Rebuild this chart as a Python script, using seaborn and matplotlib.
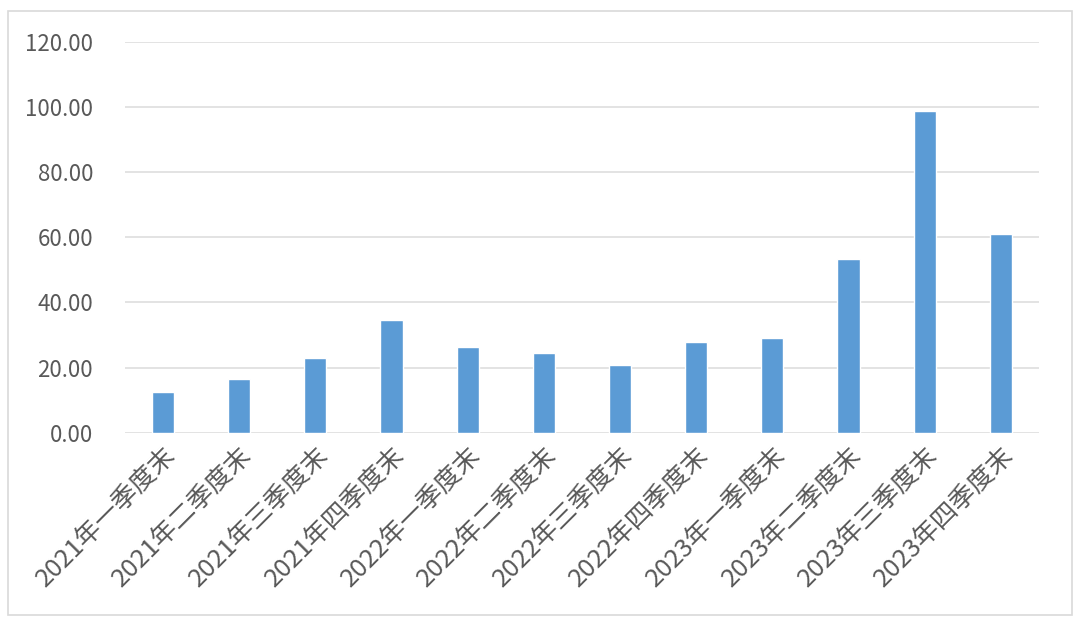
import matplotlib
matplotlib.use("Agg")
import matplotlib.pyplot as plt
import seaborn as sns
import pandas as pd
from matplotlib.patches import Rectangle

categories = ["2021年一季度末", "2021年二季度末", "2021年三季度末", "2021年四季度末",
              "2022年一季度末", "2022年二季度末", "2022年三季度末", "2022年四季度末",
              "2023年一季度末", "2023年二季度末", "2023年三季度末", "2023年四季度末"]
values = [12.4, 16.4, 23.0, 34.6, 26.3, 24.6, 20.7, 27.9, 29.0, 53.4, 98.7, 60.9]
yticks = [0, 20, 40, 60, 80, 100, 120]
ytick_labels = ["0.00", "20.00", "40.00", "60.00", "80.00", "100.00", "120.00"]

sns.set_theme(style="white")
plt.rcParams['font.family'] = ['Noto Sans CJK SC', 'DejaVu Sans']

df = pd.DataFrame({"cat": categories, "val": values})

fig = plt.figure(figsize=(10.8, 6.25), dpi=100)
ax = fig.add_axes([0.1157, 0.3077, 0.8463, 0.6251])

sns.barplot(data=df, x="cat", y="val", color="#5B9BD5", saturation=1,
            width=0.29, ax=ax, zorder=3)

ax.set_ylim(0, 120)
ax.set_xlim(-0.5, len(categories) - 0.5)
ax.set_yticks(yticks)
ax.set_yticklabels(ytick_labels, fontsize=16, color="#595959")
ax.set_xticks(range(len(categories)))
ax.set_xticklabels(categories, rotation=45, ha="right", rotation_mode="anchor",
                   fontsize=18.5, color="#595959")
ax.tick_params(axis="y", length=0, pad=23)
ax.tick_params(axis="x", length=0, pad=7)
ax.set_xlabel("")
ax.set_ylabel("")
ax.grid(axis="y", color="#DEDEDE", linewidth=1.2, zorder=0)
ax.grid(axis="x", visible=False)
for s in ax.spines.values():
    s.set_visible(False)

fig.patches.append(Rectangle((8 / 1080, 10 / 625), 1064 / 1080, 604 / 625,
                             transform=fig.transFigure, fill=False,
                             edgecolor="#D9D9D9", linewidth=1.2))

fig.savefig("out.png", dpi=100)
